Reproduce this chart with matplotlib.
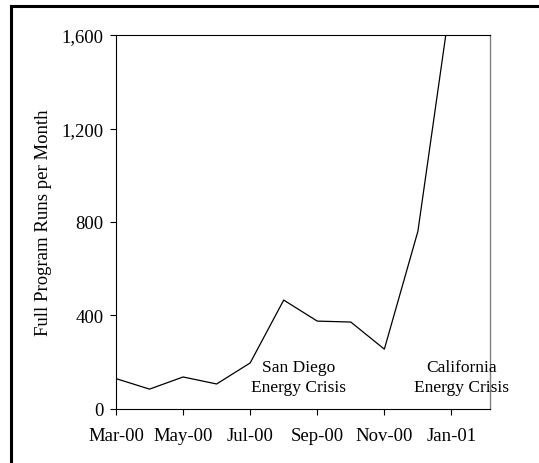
import numpy as np
import matplotlib.pyplot as plt
from matplotlib.lines import Line2D

# Data (monthly full program runs, Mar-00 .. Jan-01)
months = np.arange(11)
runs = [130, 85, 137, 107, 197, 466, 376, 372, 256, 760, 1770]
tick_pos = [0, 2, 4, 6, 8, 10]
tick_labels = ['Mar-00', 'May-00', 'Jul-00', 'Sep-00', 'Nov-00', 'Jan-01']
yticks = [0, 400, 800, 1200, 1600]

plt.rcParams['font.family'] = ['Liberation Serif', 'DejaVu Serif']

fig = plt.figure(figsize=(5.39, 4.64), dpi=100)
ax = fig.add_axes([0.2152, 0.1164, 0.6939, 0.8060])

ax.plot(months, runs, color='black', linewidth=0.9, clip_on=True)

ax.set_xlim(0, 11.15)
ax.set_ylim(0, 1600)
ax.set_xticks(tick_pos)
ax.set_xticklabels(tick_labels, fontsize=13.5)
ax.set_yticks(yticks)
ax.set_yticklabels([f'{v:,}' for v in yticks], fontsize=13.5)
ax.tick_params(direction='out', length=4, width=0.8, pad=5)
ax.tick_params(axis='x', pad=9)
ax.set_ylabel('Full Program Runs per Month', fontsize=13.5, labelpad=7)

for s in ['left', 'bottom', 'top']:
    ax.spines[s].set_color('black')
    ax.spines[s].set_linewidth(0.8)
ax.spines['right'].set_color('#808080')
ax.spines['right'].set_linewidth(1.0)

ax.text(5.43, 137, 'San Diego\nEnergy Crisis', ha='center', va='center',
        fontsize=12.5, linespacing=1.35)
ax.text(10.3, 137, 'California\nEnergy Crisis', ha='center', va='center',
        fontsize=12.5, linespacing=1.35, clip_on=False)

# outer frame (top and left edges visible)
fig.add_artist(Line2D([0.021, 0.021], [0, 0.985], transform=fig.transFigure,
                      color='black', linewidth=2.2))
fig.add_artist(Line2D([0.021, 1.0], [0.985, 0.985], transform=fig.transFigure,
                      color='black', linewidth=2.2))

fig.savefig('out.png', dpi=100)
